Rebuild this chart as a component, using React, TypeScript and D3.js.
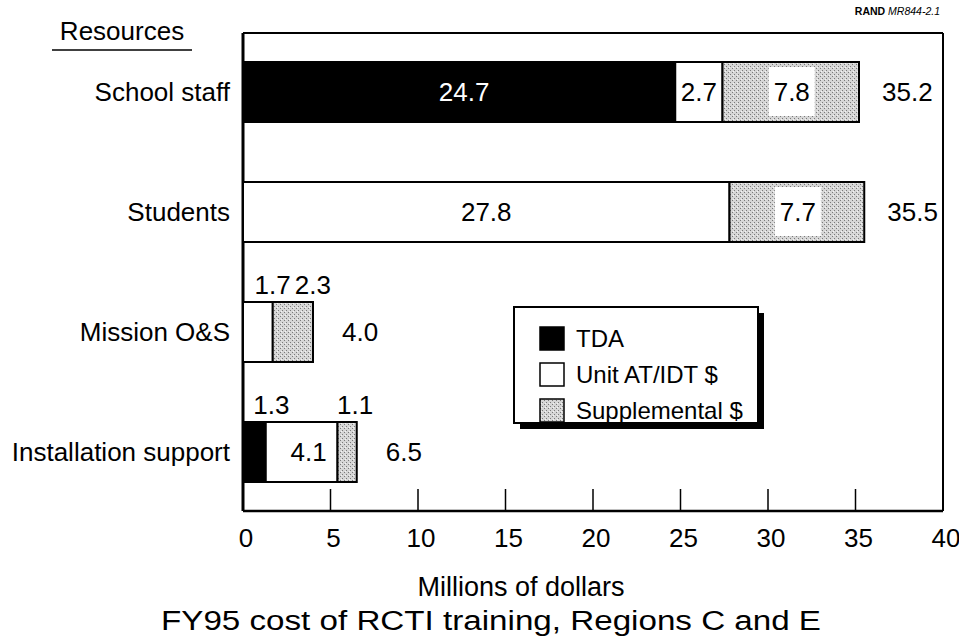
import React from "react";
import * as d3 from "d3";

const categories = ["School staff", "Students", "Mission O&S", "Installation support"];
const tdaValues = [24.7, 0, 0, 1.3];
const unitValues = [2.7, 27.8, 1.7, 4.1];
const suppValues = [7.8, 7.7, 2.3, 1.1];
const totalValues = [35.2, 35.5, 4.0, 6.5];
const xTicks = [0, 5, 10, 15, 20, 25, 30, 35, 40];
const seriesNames = ["TDA", "Unit AT/IDT $", "Supplemental $"];

const W = 959;
const H = 639;
const FONT = "'Liberation Sans', Arial, Helvetica, sans-serif";

export default function App() {
  const x = d3.scaleLinear().domain([0, 40]).range([243, 943]);
  const y = d3.scaleBand<string>().domain(categories).range([32, 512]).paddingInner(0.5).paddingOuter(0.25);
  const bw = y.bandwidth();
  const fills = ["#000", "#fff", "url(#stipple)"];
  const series = [tdaValues, unitValues, suppValues];

  const segments: any[] = [];
  categories.forEach((c, i) => {
    let acc = 0;
    series.forEach((s, k) => {
      const v = s[i];
      if (v > 0) {
        segments.push({ c, i, k, v, x0: acc, x1: acc + v });
      }
      acc += v;
    });
  });

  const fs = 26;
  const labels: any[] = [];
  segments.forEach((sg) => {
    const y0 = y(sg.c)!;
    const cy = y0 + bw / 2 + 9;
    const mid = x((sg.x0 + sg.x1) / 2);
    const txt = sg.v.toFixed(1);
    if (sg.i <= 1) {
      if (sg.k === 2) {
        labels.push({ txt, x: mid + 1, y: cy, anchor: "middle", color: "#000", box: true, y0 });
      } else {
        labels.push({ txt, x: mid + (sg.k === 0 ? 5 : 0), y: cy, anchor: "middle", color: sg.k === 0 ? "#fff" : "#000" });
      }
    } else if (sg.i === 2) {
      if (sg.k === 1) labels.push({ txt, x: x(sg.x1) + 18, y: y0 - 8, anchor: "end", color: "#000" });
      else labels.push({ txt, x: x(sg.x0) + 22, y: y0 - 8, anchor: "start", color: "#000" });
    } else {
      if (sg.k === 0) labels.push({ txt, x: mid + 17, y: y0 - 8, anchor: "middle", color: "#000" });
      else if (sg.k === 1) labels.push({ txt, x: mid + 7, y: cy, anchor: "middle", color: "#000" });
      else labels.push({ txt, x: mid + 8, y: y0 - 8, anchor: "middle", color: "#000" });
    }
  });

  const frameTop = 33;
  const frameBottom = 511;

  return (
    <svg width={W} height={H} style={{ position: "absolute", left: 0, top: 0, background: "#fff" }} fontFamily={FONT}>
      <defs>
        <pattern id="stipple" width="4" height="4" patternUnits="userSpaceOnUse">
          <rect width="4" height="4" fill="#d6d6d6" />
          <rect x="0" y="0" width="1" height="1" fill="#7a7a7a" />
          <rect x="2" y="2" width="1" height="1" fill="#7a7a7a" />
          <rect x="1" y="3" width="1" height="1" fill="#f4f4f4" />
        </pattern>
      </defs>
      <rect width={W} height={H} fill="#fff" />

      {/* RAND tag */}
      <text x={940} y={15} fontSize={10.5} textAnchor="end" fill="#000">
        <tspan fontWeight="bold">RAND </tspan>
        <tspan fontStyle="italic">MR844-2.1</tspan>
      </text>

      {/* Resources heading */}
      <text x={122} y={40} fontSize={fs} textAnchor="middle">Resources</text>
      <line x1={52} x2={192} y1={50} y2={50} stroke="#000" strokeWidth={1.5} />

      {/* frame */}
      <line x1={x(0)} x2={x(40)} y1={frameTop} y2={frameTop} stroke="#000" strokeWidth={2} />
      <line x1={x(0)} x2={x(0)} y1={frameTop} y2={frameBottom} stroke="#000" strokeWidth={3} />
      <line x1={x(40)} x2={x(40)} y1={frameTop} y2={frameBottom} stroke="#000" strokeWidth={2} />
      <line x1={x(0)} x2={x(40)} y1={frameBottom} y2={frameBottom} stroke="#000" strokeWidth={2.5} />
      {xTicks.map((t) => (
        <g key={t}>
          {t > 0 && t < 40 && (
            <line x1={x(t)} x2={x(t)} y1={frameBottom} y2={frameBottom - 22} stroke="#000" strokeWidth={1.5} />
          )}
          <text x={x(t) + 3} y={547} fontSize={fs} textAnchor="middle">{t}</text>
        </g>
      ))}

      {/* category labels */}
      {categories.map((c) => (
        <text key={c} x={230} y={y(c)! + bw / 2 + 9} fontSize={fs} textAnchor="end">{c}</text>
      ))}

      {/* bars */}
      {segments.map((sg, j) => (
        <rect key={j} x={x(sg.x0)} y={y(sg.c)!} width={x(sg.x1) - x(sg.x0)} height={bw}
          fill={fills[sg.k]} stroke="#000" strokeWidth={2} />
      ))}

      {/* segment labels */}
      {labels.map((l, j) => (
        <g key={j}>
          {l.box && <rect x={l.x - 23} y={l.y0 + 5} width={46} height={bw - 11} fill="#fff" />}
          <text x={l.x} y={l.y} fontSize={fs} textAnchor={l.anchor} fill={l.color}>{l.txt}</text>
        </g>
      ))}

      {/* totals */}
      {categories.map((c, i) => (
        <text key={c} x={x(totalValues[i]) + (totalValues[i] < 10 ? 29 : 23)} y={y(c)! + bw / 2 + 9} fontSize={fs} textAnchor="start">
          {totalValues[i].toFixed(1)}
        </text>
      ))}

      {/* legend */}
      <g>
        <rect x={520} y={313} width={244} height={116} fill="#000" />
        <rect x={514} y={307} width={244} height={116} fill="#fff" stroke="#000" strokeWidth={2} />
        {seriesNames.map((n, k) => (
          <g key={n}>
            <rect x={540} y={327 + k * 36} width={24} height={23} fill={fills[k]} stroke="#000" strokeWidth={1.5} />
            <text x={576} y={347 + k * 36} fontSize={24}>{n}</text>
          </g>
        ))}
      </g>

      {/* axis titles */}
      <text x={521} y={596} fontSize={27} textAnchor="middle">Millions of dollars</text>
      <text x={491} y={630} fontSize={27} textAnchor="middle" textLength={660} lengthAdjust="spacingAndGlyphs">
        FY95 cost of RCTI training, Regions C and E
      </text>
    </svg>
  );
}
